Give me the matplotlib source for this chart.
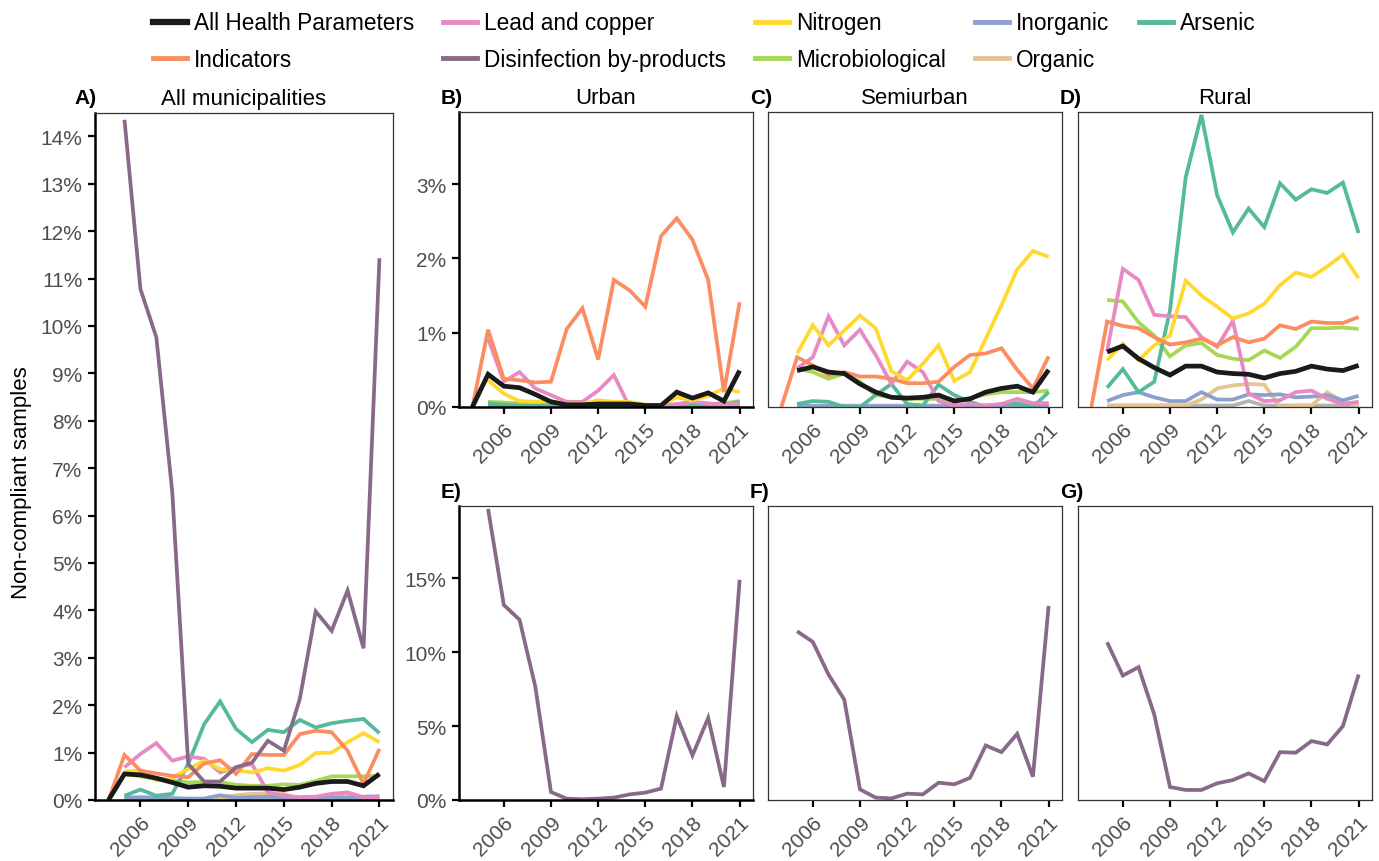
import numpy as np
import matplotlib
matplotlib.use("Agg")
from matplotlib import pyplot as plt
from matplotlib.lines import Line2D

plt.rc("font", family=["Liberation Sans", "DejaVu Sans"])

nan = np.nan
years = list(range(2004, 2022))
xticks = [2006, 2009, 2012, 2015, 2018, 2021]

# ---- A) all municipalities (% non-compliant samples), 2004..2021
a_total = [0, 0.55, 0.53, 0.46, 0.37, 0.27, 0.30, 0.29, 0.25, 0.25, 0.25, 0.22, 0.27, 0.35, 0.39, 0.39, 0.30, 0.55]
a_indicators = [0, 0.95, 0.62, 0.56, 0.51, 0.48, 0.77, 0.84, 0.55, 0.97, 0.95, 0.95, 1.39, 1.46, 1.43, 1.04, 0.34, 1.08]
a_lead = [nan, 0.69, 0.97, 1.20, 0.83, 0.92, 0.87, 0.58, 0.69, 0.76, 0.16, 0.09, 0.06, 0.07, 0.13, 0.16, 0.06, 0.06]
a_dbp = [nan, 14.35, 10.78, 9.76, 6.49, 0.76, 0.39, 0.39, 0.69, 0.79, 1.25, 1.04, 2.13, 3.98, 3.57, 4.42, 3.20, 11.43]
a_nitrogen = [nan, 0.60, 0.62, 0.41, 0.48, 0.65, 0.83, 0.65, 0.63, 0.58, 0.67, 0.62, 0.74, 0.99, 1.00, 1.22, 1.41, 1.22]
a_micro = [nan, 0.55, 0.50, 0.45, 0.42, 0.37, 0.38, 0.38, 0.32, 0.30, 0.30, 0.33, 0.32, 0.40, 0.50, 0.50, 0.50, 0.51]
a_inorganic = [nan, 0.05, 0.06, 0.05, 0.04, 0.03, 0.03, 0.10, 0.05, 0.06, 0.07, 0.05, 0.04, 0.05, 0.06, 0.05, 0.07, 0.08]
a_organic = [nan, 0.02, 0.02, 0.02, 0.02, 0.02, 0.02, 0.04, 0.10, 0.13, 0.14, 0.13, 0.02, 0.03, 0.04, 0.10, 0.05, 0.03]
a_arsenic = [nan, 0.09, 0.22, 0.09, 0.13, 0.76, 1.60, 2.08, 1.50, 1.22, 1.48, 1.43, 1.69, 1.53, 1.62, 1.67, 1.71, 1.41]
a_other = [nan] + [0.02] * 17

# ---- B) urban
b_total = [0, 0.44, 0.28, 0.26, 0.17, 0.07, 0.03, 0.03, 0.04, 0.04, 0.04, 0.02, 0.02, 0.20, 0.12, 0.19, 0.08, 0.49]
b_indicators = [0, 1.04, 0.38, 0.36, 0.33, 0.34, 1.05, 1.33, 0.64, 1.71, 1.57, 1.35, 2.30, 2.54, 2.25, 1.71, 0.20, 1.41]
b_lead = [nan, 0.92, 0.34, 0.47, 0.25, 0.16, 0.07, 0.07, 0.22, 0.43, 0.00, 0.00, 0.02, 0.04, 0.07, 0.05, 0.03, 0.05]
b_nitrogen = [nan, 0.36, 0.18, 0.08, 0.07, 0.08, 0.04, 0.04, 0.09, 0.07, 0.07, 0.03, 0.03, 0.13, 0.09, 0.15, 0.25, 0.20]
b_micro = [nan, 0.07, 0.06, 0.05, 0.05, 0.04, 0.04, 0.03, 0.03, 0.03, 0.03, 0.02, 0.02, 0.03, 0.03, 0.04, 0.05, 0.08]
b_inorganic = [nan] + [0.02] * 17
b_organic = [nan] + [0.02] * 17
b_arsenic = [nan, 0.05, 0.03, 0.02, 0.02, 0.02, 0.01, 0.01, 0.01, 0.01, 0.01, 0.01, 0.01, 0.02, 0.03, 0.04, 0.03, 0.07]
b_other = [nan] + [0.01] * 17

# ---- C) semiurban
c_total = [nan, 0.49, 0.54, 0.47, 0.45, 0.31, 0.20, 0.13, 0.12, 0.13, 0.16, 0.08, 0.11, 0.20, 0.25, 0.28, 0.20, 0.50]
c_indicators = [0, 0.67, 0.56, 0.43, 0.47, 0.41, 0.41, 0.38, 0.32, 0.32, 0.34, 0.54, 0.70, 0.72, 0.79, 0.50, 0.25, 0.68]
c_lead = [nan, 0.52, 0.67, 1.22, 0.83, 1.04, 0.70, 0.31, 0.61, 0.47, 0.08, 0.02, 0.04, 0.02, 0.04, 0.11, 0.05, 0.05]
c_nitrogen = [nan, 0.72, 1.10, 0.83, 1.03, 1.23, 1.06, 0.48, 0.36, 0.58, 0.83, 0.35, 0.47, 0.92, 1.37, 1.85, 2.10, 2.02]
c_micro = [nan, 0.52, 0.47, 0.38, 0.45, 0.34, 0.16, 0.13, 0.11, 0.11, 0.11, 0.09, 0.12, 0.17, 0.20, 0.20, 0.20, 0.22]
c_inorganic = [nan] + [0.02] * 17
c_organic = [nan, 0.02, 0.02, 0.02, 0.02, 0.02, 0.02, 0.02, 0.02, 0.02, 0.02, 0.02, 0.02, 0.02, 0.03, 0.05, 0.05, 0.05]
c_arsenic = [nan, 0.04, 0.08, 0.07, 0.00, 0.00, 0.16, 0.31, 0.04, 0.02, 0.30, 0.16, 0.07, 0.00, 0.04, 0.05, 0.00, 0.20]
c_other = [nan] + [0.01] * 17

# ---- D) rural
d_total = [nan, 0.74, 0.82, 0.65, 0.53, 0.43, 0.55, 0.55, 0.47, 0.45, 0.44, 0.39, 0.45, 0.48, 0.55, 0.51, 0.49, 0.56]
d_indicators = [0, 1.15, 1.09, 1.06, 0.94, 0.84, 0.87, 0.92, 0.83, 0.94, 0.87, 0.92, 1.10, 1.05, 1.15, 1.13, 1.13, 1.21]
d_lead = [nan, 0.75, 1.86, 1.71, 1.24, 1.22, 1.21, 0.94, 0.81, 1.16, 0.18, 0.08, 0.09, 0.20, 0.22, 0.11, 0.04, 0.07]
d_nitrogen = [nan, 0.63, 0.85, 0.63, 0.83, 0.96, 1.70, 1.50, 1.35, 1.19, 1.26, 1.39, 1.64, 1.81, 1.75, 1.89, 2.05, 1.73]
d_micro = [nan, 1.44, 1.42, 1.14, 0.96, 0.68, 0.83, 0.86, 0.70, 0.65, 0.63, 0.76, 0.66, 0.81, 1.06, 1.06, 1.07, 1.05]
d_inorganic = [nan, 0.08, 0.16, 0.20, 0.13, 0.08, 0.08, 0.20, 0.10, 0.10, 0.17, 0.16, 0.17, 0.13, 0.14, 0.16, 0.09, 0.15]
d_organic = [nan, 0.02, 0.02, 0.02, 0.02, 0.02, 0.02, 0.10, 0.25, 0.29, 0.31, 0.30, 0.00, 0.02, 0.02, 0.20, 0.07, 0.02]
d_arsenic = [nan, 0.26, 0.51, 0.20, 0.34, 1.30, 3.09, 3.93, 2.85, 2.35, 2.67, 2.42, 3.01, 2.79, 2.93, 2.88, 3.02, 2.34]
d_other = [nan, 0.02, 0.02, 0.02, 0.02, 0.02, 0.02, 0.02, 0.02, 0.02, 0.08, 0.02, 0.02, 0.02, 0.02, 0.02, 0.02, 0.02]

# ---- E-G) disinfection by-products by municipality type
e_dbp = [nan, 19.70, 13.20, 12.20, 7.70, 0.54, 0.09, 0.05, 0.09, 0.16, 0.38, 0.50, 0.77, 5.68, 3.02, 5.56, 0.88, 14.90]
f_dbp = [nan, 11.42, 10.70, 8.49, 6.80, 0.72, 0.16, 0.11, 0.43, 0.38, 1.17, 1.06, 1.50, 3.69, 3.24, 4.48, 1.58, 13.14]
g_dbp = [nan, 10.68, 8.42, 8.99, 5.79, 0.88, 0.68, 0.68, 1.13, 1.35, 1.80, 1.28, 3.24, 3.20, 3.99, 3.76, 5.00, 8.49]

COLORS = {
    "All Health Parameters": "#1a1a1a",
    "Indicators": "#FC8D62",
    "Lead and copper": "#E78AC3",
    "Disinfection by-products": "#886A88",
    "Nitrogen": "#FFD92F",
    "Microbiological": "#A6D854",
    "Inorganic": "#8DA0CB",
    "Organic": "#E5C494",
    "Arsenic": "#55B99C",
    "other": "#B3B3B3",
}
LW = 2.7
W, H = 1379, 862


def px_axes(fig, x0, y0, x1, y1):
    return fig.add_axes([x0 / W, 1 - y1 / H, (x1 - x0) / W, (y1 - y0) / H])


def style(ax, outer, yticks, ymax):
    ax.set_xlim(2003.15, 2021.85)
    ax.set_ylim(0, ymax)
    ax.set_xticks(xticks)
    ax.set_xticklabels([str(t) for t in xticks], rotation=45, ha="right",
                       rotation_mode="anchor")
    for s in ax.spines.values():
        s.set_color("#333333")
        s.set_linewidth(0.9)
    if outer:
        ax.spines["left"].set(color="black", linewidth=1.8)
        ax.spines["bottom"].set(color="black", linewidth=1.8)
        ax.set_yticks(yticks)
        ax.set_yticklabels(["%d%%" % v for v in yticks])
    else:
        ax.set_yticks([])
    ax.tick_params(axis="both", colors="black", labelcolor="#4D4D4D",
                   length=5, width=1.6, labelsize=15, pad=4)


def draw_lines(ax, series):
    for name, vals in series:
        lw = 3.4 if name == "All Health Parameters" else LW
        ax.plot(years, vals, color=COLORS[name], lw=lw, solid_capstyle="butt",
                solid_joinstyle="miter")


def tag(fig, ax_left, y, letter):
    fig.text((ax_left - 18) / W, 1 - y / H, letter, fontsize=15,
             fontweight="bold", ha="left", va="center")


fig = plt.figure(figsize=(13.79, 8.62), dpi=100)

# panel A
ax_a = px_axes(fig, 95, 114, 393, 801)
draw_lines(ax_a, [("other", a_other), ("Organic", a_organic), ("Inorganic", a_inorganic),
                  ("Microbiological", a_micro), ("Arsenic", a_arsenic), ("Lead and copper", a_lead),
                  ("Nitrogen", a_nitrogen), ("Indicators", a_indicators),
                  ("Disinfection by-products", a_dbp), ("All Health Parameters", a_total)])
style(ax_a, True, list(range(0, 15)), np.nanmax(a_dbp) * 1.01)
fig.text((95 + 393) / 2 / W, 1 - 99 / H, "All municipalities", fontsize=16,
         ha="center", va="center")
fig.text((95 - 21) / W, 1 - 99 / H, "A)", fontsize=15, fontweight="bold",
         ha="left", va="center")

# panels B-D (all groups except disinfection by-products)
top_max = np.nanmax(d_arsenic) * 1.01
top = [
    (459, "B)", "Urban", [b_other, b_organic, b_inorganic, b_micro, b_arsenic, b_lead,
                          b_nitrogen, b_indicators, b_total]),
    (768, "C)", "Semiurban", [c_other, c_organic, c_inorganic, c_micro, c_arsenic, c_lead,
                              c_nitrogen, c_indicators, c_total]),
    (1078, "D)", "Rural", [d_other, d_organic, d_inorganic, d_micro, d_arsenic, d_lead,
                           d_nitrogen, d_indicators, d_total]),
]
names = ["other", "Organic", "Inorganic", "Microbiological", "Arsenic", "Lead and copper",
         "Nitrogen", "Indicators", "All Health Parameters"]
for i, (x0, letter, title, vals) in enumerate(top):
    ax = px_axes(fig, x0, 113, x0 + 294, 408)
    draw_lines(ax, list(zip(names, vals)))
    style(ax, i == 0, [0, 1, 2, 3], top_max)
    fig.text((x0 + 147) / W, 1 - 99 / H, title, fontsize=16, ha="center", va="center")
    tag(fig, x0, 99, letter)

# panels E-G (disinfection by-products)
bot_max = np.nanmax(e_dbp) * 1.01
for i, (x0, letter, vals) in enumerate([(459, "E)", e_dbp), (768, "F)", f_dbp),
                                        (1078, "G)", g_dbp)]):
    ax = px_axes(fig, x0, 507, x0 + 294, 801)
    draw_lines(ax, [("Disinfection by-products", vals)])
    style(ax, i == 0, [0, 5, 10, 15], bot_max)
    tag(fig, x0, 493, letter)

fig.text(22 / W, 1 - 483 / H, "Non-compliant samples", fontsize=16,
         rotation=90, ha="center", va="center")

legend_order = ["All Health Parameters", "Indicators", "Lead and copper",
                "Disinfection by-products", "Nitrogen", "Microbiological",
                "Inorganic", "Organic", "Arsenic"]
handles = [Line2D([], [], color=COLORS[n], lw=4.5 if n == "All Health Parameters" else 3.5)
           for n in legend_order]
fig.legend(handles, legend_order, loc="upper center", bbox_to_anchor=(704 / W, 1.0),
           ncol=5, frameon=False, fontsize=16.3, handlelength=1.5, handletextpad=0.3,
           columnspacing=1.3, labelspacing=0.6, borderaxespad=0.15)

fig.savefig("out.png", dpi=100)
